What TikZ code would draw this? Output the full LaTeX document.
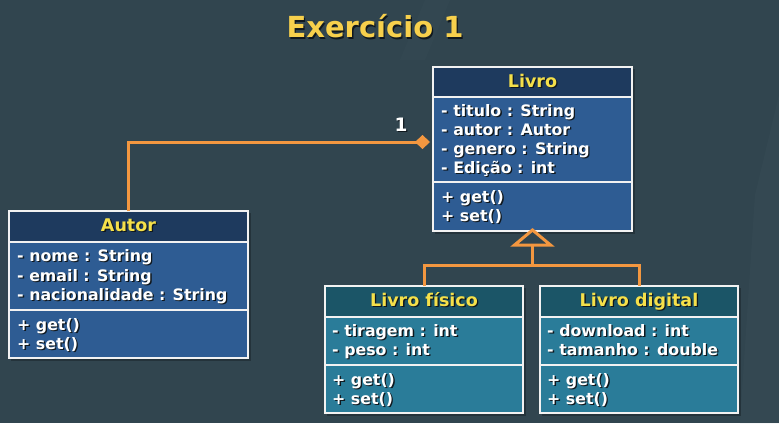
\documentclass[tikz,border=0pt]{standalone}
\usepackage{fontspec}
\setmainfont{DejaVu Sans}
\usetikzlibrary{arrows.meta}
\definecolor{bg}{HTML}{31454F}
\definecolor{bgl}{HTML}{3A4F58}
\definecolor{navy}{HTML}{1E3A5E}
\definecolor{blue}{HTML}{2E5C93}
\definecolor{tealT}{HTML}{1B5567}
\definecolor{tealB}{HTML}{2A7C99}
\definecolor{org}{HTML}{F39740}
\definecolor{ylw}{HTML}{F5E04A}
\definecolor{hd}{HTML}{F7D04C}
\definecolor{brd}{HTML}{F2F2F2}
\definecolor{shd}{HTML}{10181E}
\newcommand\shtx[1]{\rlap{\kern1.3pt\raisebox{-1.3pt}{\color{shd}#1}}#1}
\tikzset{
  attr/.style={anchor=west, inner sep=0pt, text=white, font=\bfseries\fontsize{15.8}{18}\selectfont, text height=11.5pt, text depth=3.5pt},
  ctitle/.style={inner sep=0pt, text=ylw, font=\bfseries\fontsize{17.5}{20}\selectfont, text height=13pt, text depth=4pt},
  conn/.style={draw=org, line width=3pt},
}
% name, left, top, right, div1, div2, bottom, titlecolor, bodycolor
\newcommand\umlbox[9]{%
  \fill[black, opacity=0.25] (#2+2,#3+2) rectangle (#4+3,#7+3);
  \fill[#9] (#2,#3) rectangle (#4,#7);
  \fill[#8] (#2,#3) rectangle (#4,#5);
  \draw[brd, line width=2pt] (#2,#5) -- (#4,#5);
  \draw[brd, line width=2pt] (#2,#6) -- (#4,#6);
  \node[draw=brd, line width=2pt, inner sep=0pt, outer sep=0pt,
        minimum width={#4pt-#2pt}, minimum height={#7pt-#3pt}] (#1)
        at ({(#2+#4)/2},{(#3+#7)/2}) {};
}
\begin{document}
\begin{tikzpicture}[x=1pt,y=-1pt]
\fill[bg] (0,0) rectangle (779,423);
\useasboundingbox (0,0) rectangle (779,423);
% faint background streaks
\fill[bgl, opacity=0.35] (755,195) -- (779,95) -- (779,423) -- (740,423) -- cycle;
\fill[bgl, opacity=0.25] (400,60) -- (425,0) -- (450,0) -- (425,60) -- cycle;

% heading
\node[text=hd, font=\bfseries\fontsize{29}{34}\selectfont, inner sep=0pt] (head) at (375,27) {\shtx{Exercício 1}};

% classes
\umlbox{livro}{433}{67}{632}{97}{182}{231}{navy}{blue}
\umlbox{autor}{9}{211}{248}{242}{310}{358}{navy}{blue}
\umlbox{fisico}{325}{286}{523}{317}{365}{413}{tealT}{tealB}
\umlbox{digital}{540}{286}{738}{317}{365}{413}{tealT}{tealB}

% Livro
\node[ctitle] (lv-t) at (532.5,83) {\shtx{Livro}};
\node[attr] (lv-a1) at (441,112) {\shtx{- titulo : String}};
\node[attr] (lv-a2) at (441,131) {\shtx{- autor : Autor}};
\node[attr] (lv-a3) at (441,150) {\shtx{- genero : String}};
\node[attr] (lv-a4) at (441,169) {\shtx{- Edição : int}};
\node[attr] (lv-m1) at (441,198) {\shtx{+ get()}};
\node[attr] (lv-m2) at (441,217) {\shtx{+ set()}};

% Autor
\node[ctitle] (au-t) at (128.5,227) {\shtx{Autor}};
\node[attr] (au-a1) at (17,257) {\shtx{- nome : String}};
\node[attr] (au-a2) at (17,277) {\shtx{- email : String}};
\node[attr] (au-a3) at (17,296) {\shtx{- nacionalidade : String}};
\node[attr] (au-m1) at (17,326) {\shtx{+ get()}};
\node[attr] (au-m2) at (17,345) {\shtx{+ set()}};

% Livro fisico
\node[ctitle] (fi-t) at (424,302) {\shtx{Livro físico}};
\node[attr] (fi-a1) at (332,332) {\shtx{- tiragem : int}};
\node[attr] (fi-a2) at (332,351) {\shtx{- peso : int}};
\node[attr] (fi-m1) at (332,381) {\shtx{+ get()}};
\node[attr] (fi-m2) at (332,400) {\shtx{+ set()}};

% Livro digital
\node[ctitle] (di-t) at (639,302) {\shtx{Livro digital}};
\node[attr] (di-a1) at (547,332) {\shtx{- download : int}};
\node[attr] (di-a2) at (547,351) {\shtx{- tamanho : double}};
\node[attr] (di-m1) at (547,381) {\shtx{+ get()}};
\node[attr] (di-m2) at (547,400) {\shtx{+ set()}};

% composition
\coordinate (lv-left) at (430,142);
\draw[conn, -{Diamond[length=15pt,width=14pt,line width=0pt]}, line join=miter]
  (autor.north) |- (lv-left);
\node[text=white, font=\bfseries\fontsize{18.5}{20}\selectfont, inner sep=0pt] (mult) at (401,125) {\shtx{1}};

% generalization
\coordinate (gen-j) at (532.5,265);
\coordinate (tri-apex) at ([yshift=1pt]livro.south);
\coordinate (tri-base) at (532.5,245);
\draw[conn, line join=miter] (fisico.north) |- (gen-j) -| (digital.north);
\draw[conn] (gen-j) -- (tri-base);
\draw[org, fill=bg, line width=3pt, line join=miter]
  (tri-apex) -- ([xshift=-18pt]tri-base) -- ([xshift=18pt]tri-base) -- cycle;
\end{tikzpicture}
\end{document}
